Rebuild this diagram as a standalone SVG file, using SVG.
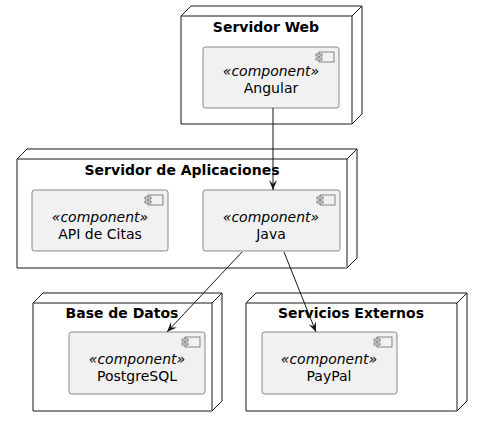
<svg xmlns="http://www.w3.org/2000/svg" width="482" height="427" viewBox="0 0 482 427">
<style>
.node{fill:#FFFFFF;stroke:#181818;stroke-width:1}
.comp{fill:#F1F1F1;stroke:#181818;stroke-width:0.5}
.icon{fill:#F1F1F1;stroke:#181818;stroke-width:0.5}
.title{font-family:"DejaVu Sans",sans-serif;font-size:14px;font-weight:bold;text-anchor:middle;fill:#000}
.st{font-family:"DejaVu Sans",sans-serif;font-size:14px;font-style:italic;text-anchor:middle;fill:#000}
.nm{font-family:"DejaVu Sans",sans-serif;font-size:14px;text-anchor:middle;fill:#000}
.edge{stroke:#181818;stroke-width:1;fill:none}
</style>
<defs>
<marker id="arr" viewBox="0 0 10 8" refX="10" refY="4" markerWidth="10" markerHeight="8" markerUnits="userSpaceOnUse" orient="auto">
<path d="M0,0 L10,4 L0,8 L4,4 Z" fill="#181818"/>
</marker>
<g id="ico">
<rect x="0" y="0" width="15" height="10" class="icon"/>
<rect x="-3" y="2" width="6" height="2" class="icon"/>
<rect x="-3" y="6" width="6" height="2" class="icon"/>
</g>
</defs>

<g id="servidor-web">
<path class="node" d="M181,16 L191,6 L362,6 L362,114 L352,124 L181,124 Z"/>
<path class="node" d="M352,124 L352,16 L181,16 M352,16 L362,6"/>
<text class="title" x="266" y="32">Servidor Web</text>
<g id="angular">
<rect class="comp" x="203" y="47" width="136" height="61" rx="2.5"/>
<use href="#ico" x="319" y="52"/>
<text class="st" x="271" y="76">«component»</text>
<text class="nm" x="271" y="93">Angular</text>
</g>
</g>

<g id="servidor-aplicaciones">
<path class="node" d="M17,159 L27,149 L357,149 L357,258 L347,268 L17,268 Z"/>
<path class="node" d="M347,268 L347,159 L17,159 M347,159 L357,149"/>
<text class="title" x="182" y="175">Servidor de Aplicaciones</text>
<g id="api-citas">
<rect class="comp" x="32" y="190" width="136" height="61" rx="2.5"/>
<use href="#ico" x="148" y="195"/>
<text class="st" x="100" y="222">«component»</text>
<text class="nm" x="100" y="239">API de Citas</text>
</g>
<g id="java">
<rect class="comp" x="203" y="190" width="137" height="61" rx="2.5"/>
<use href="#ico" x="320" y="195"/>
<text class="st" x="271" y="222">«component»</text>
<text class="nm" x="271" y="239">Java</text>
</g>
</g>

<g id="base-datos">
<path class="node" d="M33,303 L43,293 L222,293 L222,401 L212,411 L33,411 Z"/>
<path class="node" d="M212,411 L212,303 L33,303 M212,303 L222,293"/>
<text class="title" x="122" y="318">Base de Datos</text>
<g id="postgresql">
<rect class="comp" x="69" y="332" width="136" height="62" rx="2.5"/>
<use href="#ico" x="185" y="337"/>
<text class="st" x="137" y="364">«component»</text>
<text class="nm" x="137" y="381">PostgreSQL</text>
</g>
</g>

<g id="servicios-externos">
<path class="node" d="M246,303 L256,293 L467,293 L467,401 L457,411 L246,411 Z"/>
<path class="node" d="M457,411 L457,303 L246,303 M457,303 L467,293"/>
<text class="title" x="351" y="318">Servicios Externos</text>
<g id="paypal">
<rect class="comp" x="262" y="332" width="135" height="62" rx="2.5"/>
<use href="#ico" x="377" y="337"/>
<text class="st" x="329" y="364">«component»</text>
<text class="nm" x="329" y="381">PayPal</text>
</g>
</g>

<g id="connectors">
<path class="edge" d="M273,108 L273,190" marker-end="url(#arr)"/>
<path class="edge" d="M242,252 L167,332" marker-end="url(#arr)"/>
<path class="edge" d="M284,252 L316,332" marker-end="url(#arr)"/>
</g>
</svg>
